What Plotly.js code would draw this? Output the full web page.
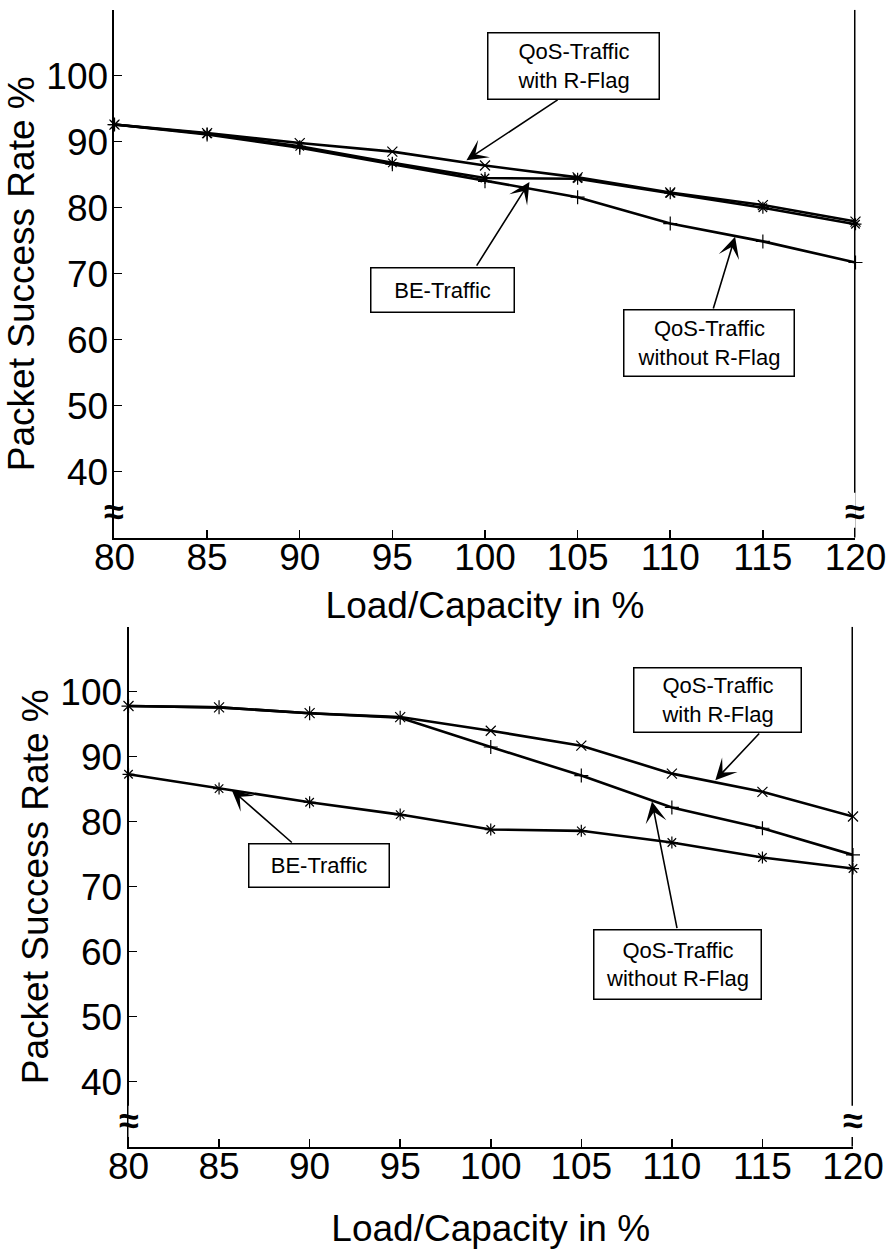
<!DOCTYPE html>
<html>
<head>
<meta charset="utf-8">
<script src="https://cdn.plot.ly/plotly-3.0.1.min.js"></script>
<style>html,body{margin:0;padding:0;background:#fff;}#chart{width:893px;height:1249px;}</style>
</head>
<body>
<div id="chart"></div>
<script>
// ---- data ----
const load = [80, 85, 90, 95, 100, 105, 110, 115, 120];
const xTicks = [80, 85, 90, 95, 100, 105, 110, 115, 120];
const yTicks = [40, 50, 60, 70, 80, 90, 100];

// upper chart
const topRFlag  = [92.6, 91.3, 89.8, 88.5, 86.4, 84.6, 82.3, 80.4, 77.9];
const topBE     = [92.6, 91.2, 89.3, 86.8, 84.5, 84.4, 82.2, 80.0, 77.5];
const topNoFlag = [92.6, 91.1, 89.1, 86.6, 84.0, 81.6, 77.6, 74.9, 71.7];

// lower chart
const botRFlag  = [97.8, 97.6, 96.7, 96.1, 94.0, 91.7, 87.4, 84.6, 80.8];
const botNoFlag = [97.8, 97.6, 96.7, 96.0, 91.5, 87.1, 82.2, 79.0, 74.9];
const botBE     = [87.3, 85.1, 83.0, 81.1, 78.8, 78.6, 76.8, 74.5, 72.8];

const labelRFlag = 'QoS-Traffic<br>with R-Flag';
const labelNoFlag = 'QoS-Traffic<br>without R-Flag';
const labelBE = 'BE-Traffic';
const xTitle = 'Load/Capacity in %';
const yTitle = 'Packet Success Rate %';

// ---- styling ----
const FONT = 'Liberation Sans, Arial, Helvetica, sans-serif';
function series(y, sym, xa, ya, name) {
  return {
    x: load, y: y, xaxis: xa, yaxis: ya, name: name,
    type: 'scatter', mode: 'lines+markers', cliponaxis: false,
    line: {color: '#000', width: 2.6},
    marker: {symbol: sym, size: 10, color: '#000', line: {color: '#000', width: 1.2}}
  };
}
const data = [
  series(topRFlag, 'x-thin', 'x', 'y', 'QoS-Traffic with R-Flag'),
  series(topBE, 'asterisk', 'x', 'y', 'BE-Traffic'),
  series(topNoFlag, 'cross-thin', 'x', 'y', 'QoS-Traffic without R-Flag'),
  series(botRFlag, 'x-thin', 'x2', 'y2', 'QoS-Traffic with R-Flag'),
  series(botNoFlag, 'cross-thin', 'x2', 'y2', 'QoS-Traffic without R-Flag'),
  series(botBE, 'asterisk', 'x2', 'y2', 'BE-Traffic')
];

function xAxis(domain, anchor, standoff) {
  return {
    domain: domain, anchor: anchor, range: [80, 120], tickvals: xTicks, ticktext: xTicks.map(String),
    ticks: 'inside', ticklen: 8, tickwidth: 1.5, tickcolor: '#000',
    showline: true, linewidth: 2, linecolor: '#000', showgrid: false, zeroline: false,
    tickfont: {family: FONT, size: 37, color: '#000'}, ticklabelstandoff: -14,
    title: {text: xTitle, font: {family: FONT, size: 37, color: '#000'}, standoff: standoff}
  };
}
function yAxis(domain, anchor) {
  return {
    domain: domain, anchor: anchor, range: [30, 110], tickvals: yTicks, ticktext: yTicks.map(String),
    ticks: 'inside', ticklen: 8, tickwidth: 1.5, tickcolor: '#000',
    showline: true, linewidth: 2, linecolor: '#000', showgrid: false, zeroline: false,
    tickfont: {family: FONT, size: 37, color: '#000'}, ticklabelstandoff: -3,
    title: {text: yTitle, font: {family: FONT, size: 37, color: '#000'}, standoff: 0}
  };
}
function topTicks(over, anchor, showline) {
  return {
    overlaying: over, anchor: anchor, side: 'top', range: [80, 120], tickvals: xTicks,
    showticklabels: false, ticks: 'inside', ticklen: 8, tickwidth: 1.5, tickcolor: '#000',
    showline: showline, linewidth: 2, linecolor: '#000', showgrid: false, zeroline: false
  };
}

function box(xr, yr, x, y, text, w, h) {
  return {xref: xr, yref: yr, x: x, y: y, text: text, showarrow: false,
    font: {family: FONT, size: 22, color: '#000'}, width: w, height: h,
    bgcolor: '#fff', bordercolor: '#000', borderwidth: 1.5, borderpad: 0, align: 'center'};
}
function arrow(xr, yr, x, y, ax, ay) {
  return {xref: xr, yref: yr, axref: xr, ayref: yr, x: x, y: y, ax: ax, ay: ay, text: '',
    showarrow: true, arrowhead: 3, arrowsize: 2.2, arrowwidth: 1.6, arrowcolor: '#000', standoff: 0, startstandoff: 0};
}
function approx(xr, yr, x, y) {
  return {xref: xr, yref: yr, x: x, y: y, text: '<b>\u2248</b>', showarrow: false,
    font: {family: FONT, size: 36, color: '#000'}};
}
function breakRect(xr, yr, xv, y0, y1) {
  return {type: 'rect', xref: xr, yref: yr, xsizemode: 'pixel', xanchor: xv, x0: -4, x1: 4,
    y0: y0, y1: y1, fillcolor: '#fff', line: {width: 0}, layer: 'above'};
}

const layout = {
  width: 893, height: 1249, margin: {l: 0, r: 0, t: 0, b: 0},
  paper_bgcolor: '#fff', plot_bgcolor: '#fff', showlegend: false,
  font: {family: FONT, color: '#000'},
  xaxis: xAxis([0.1282, 0.9580], 'y', 15),
  yaxis: yAxis([0.5695, 0.9922], 'x'),
  xaxis2: xAxis([0.1439, 0.9552], 'y2', 33),
  yaxis2: yAxis([0.0819, 0.4982], 'x2'),
  xaxis3: topTicks('x', 'y', true),
  xaxis4: topTicks('x2', 'y2', false),
  shapes: [
    {type: 'line', xref: 'x', yref: 'y', x0: 120, x1: 120, y0: 30, y1: 110, line: {color: '#000', width: 3}},
    {type: 'line', xref: 'x2', yref: 'y2', x0: 120, x1: 120, y0: 30, y1: 110, line: {color: '#000', width: 3}},
    breakRect('x', 'y', 80, 31.5, 36.8),
    breakRect('x', 'y', 120, 31.5, 36.8),
    breakRect('x2', 'y2', 80, 31.5, 36.3),
    breakRect('x2', 'y2', 120, 31.5, 36.3)
  ],
  annotations: [
    approx('x', 'y', 80, 33.9), approx('x', 'y', 120, 33.9),
    approx('x2', 'y2', 80, 34.0), approx('x2', 'y2', 120, 34.0),
    // upper chart
    arrow('x', 'y', 99.0, 87.2, 104.0, 96.5),
    arrow('x', 'y', 102.4, 83.9, 99.5, 71.0),
    arrow('x', 'y', 113.5, 75.6, 112.3, 64.5),
    box('x', 'y', 104.8, 101.5, labelRFlag, 170, 65),
    box('x', 'y', 97.7, 67.6, labelBE, 142, 43),
    box('x', 'y', 112.1, 59.5, labelNoFlag, 169, 65),
    // lower chart
    arrow('x2', 'y2', 112.4, 86.4, 114.9, 93.8),
    arrow('x2', 'y2', 85.7, 84.9, 89.1, 76.6),
    arrow('x2', 'y2', 108.9, 83.1, 110.3, 63.4),
    box('x2', 'y2', 112.5, 98.8, labelRFlag, 166, 63),
    box('x2', 'y2', 90.5, 73.2, labelBE, 139, 42),
    box('x2', 'y2', 110.3, 58.0, labelNoFlag, 166, 68)
  ]
};

Plotly.newPlot('chart', data, layout, {staticPlot: true, displayModeBar: false});
</script>
</body>
</html>
